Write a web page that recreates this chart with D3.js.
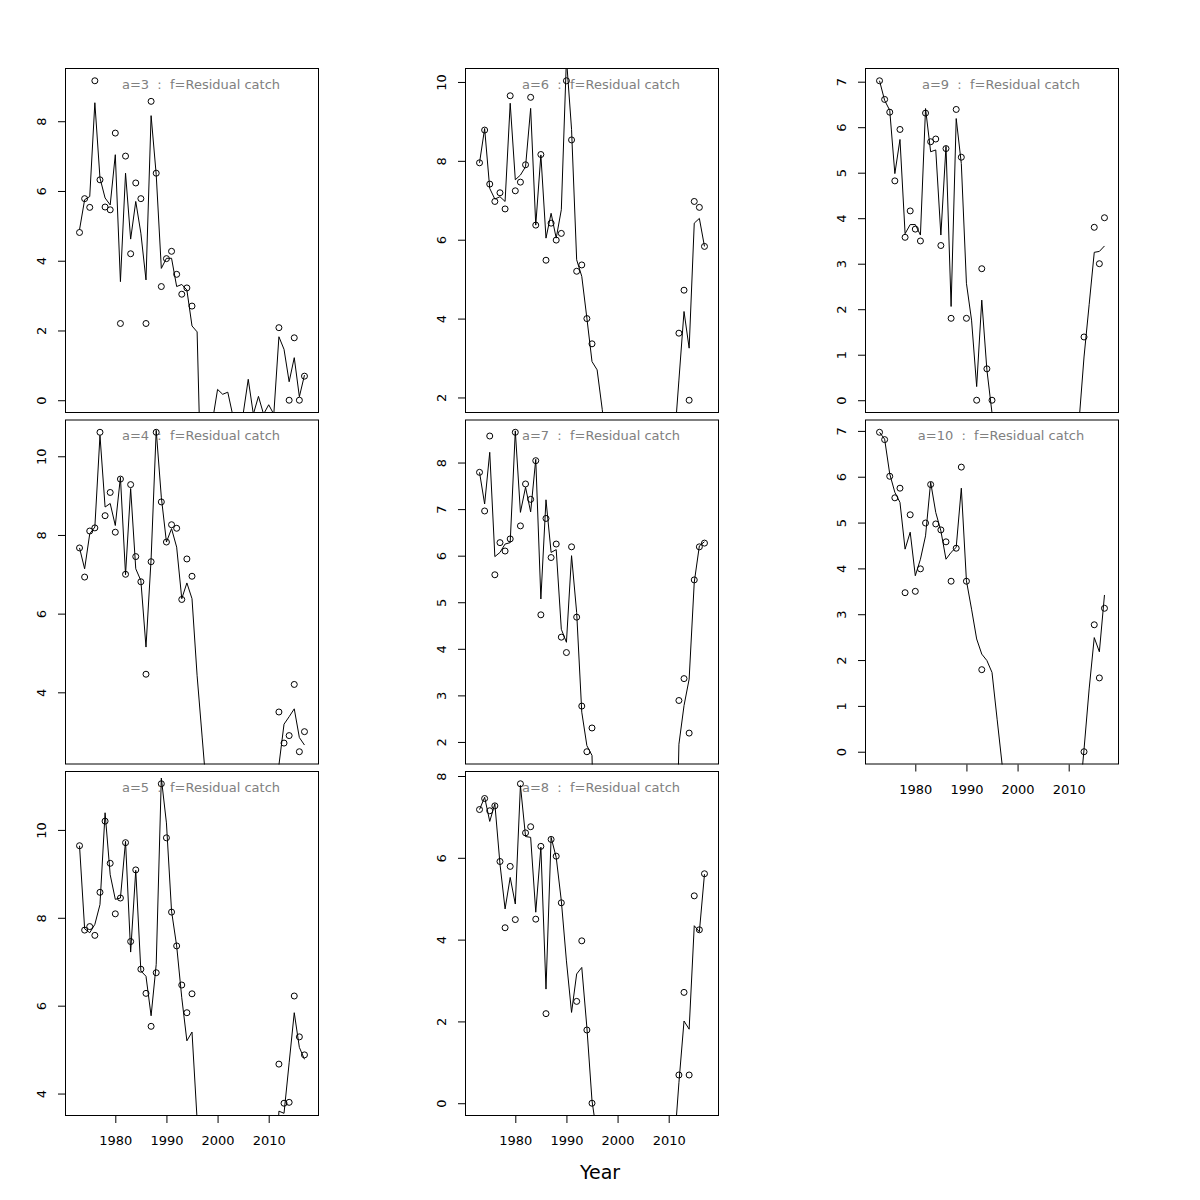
<!DOCTYPE html>
<html><head><meta charset="utf-8">
<script src="https://cdn.jsdelivr.net/npm/d3@7/dist/d3.min.js"></script>
<style>
body{margin:0;background:#fff}
svg text{font-family:"DejaVu Sans",sans-serif}
svg .tick text{font-size:13px}
</style>
</head><body>
<svg id="chart" width="1200" height="1200"></svg>
<script>
// ---------- data ----------
const years = [1973,1974,1975,1976,1977,1978,1979,1980,1981,1982,1983,1984,1985,1986,1987,1988,1989,1990,
  1991,1992,1993,1994,1995,1996,1997,1998,1999,2000,2001,2002,2003,2004,2005,2006,2007,2008,2009,2010,2011,
  2012,2013,2014,2015,2016,2017];
const xLimYears = [1972, 2018];
const xTicks = [1980, 1990, 2000, 2010];
const N = null;

const obs3 = [4.81,5.78,5.53,9.16,6.32,5.54,5.46,7.66,2.20,7.00,4.20,6.23,5.78,2.20,8.57,6.51,3.26,4.06,4.27,3.61,3.04,3.22,2.70,
  N,N,N,N,N,N,N,N,N,N,N,N,N,N,N,N, 2.08,N,0.00,1.79,0.00,0.69];
const pred3 = [4.89,5.75,5.84,8.53,6.37,5.80,5.60,7.04,3.40,6.51,4.62,5.70,4.79,3.45,8.16,6.47,3.78,4.07,4.07,3.26,3.32,3.16,2.13,
  1.96,-3.8,-3.0,-0.6,0.31,0.17,0.23,-0.45,-1.0,-0.4,0.60,-0.4,0.11,-0.4,-0.13,-0.4, 1.82,1.46,0.53,1.22,0.10,0.72];

const obs4 = [7.67,6.93,8.10,8.18,10.61,8.49,9.08,8.07,9.42,7.00,9.28,7.45,6.81,4.46,7.32,10.61,8.84,7.82,8.26,8.17,6.36,7.39,6.95,
  N,N,N,N,N,N,N,N,N,N,N,N,N,N,N,N, 3.50,2.71,2.90,4.20,2.49,3.00];
const pred4 = [7.67,7.14,8.03,8.20,10.53,8.71,8.80,8.24,9.47,6.99,9.18,7.14,6.84,5.15,7.39,10.66,8.96,7.82,8.16,7.69,6.38,6.78,6.38,
  4.42,2.84,1.26,-1.0,-2.0,-2.0,-2.0,-2.0,-2.0,-2.0,-2.0,-2.0,-2.0,-2.0,-2.0,-1.0, 2.15,3.19,3.38,3.58,2.85,2.66];

const obs5 = [9.64,7.72,7.80,7.60,8.58,10.20,9.24,8.09,8.45,9.71,7.46,9.09,6.83,6.28,5.53,6.75,11.05,9.82,8.13,7.36,6.47,5.84,6.27,
  N,N,N,N,N,N,N,N,N,N,N,N,N,N,N,N, 4.67,3.78,3.80,6.22,5.29,4.88];
const pred5 = [9.64,7.75,7.66,7.85,8.30,10.39,8.98,8.42,8.45,9.74,7.22,9.08,6.79,6.67,5.77,6.94,11.18,10.16,8.15,7.36,6.18,5.20,5.40,
  3.40,1.00,0.0,0.0,0.0,0.0,0.0,0.0,0.0,0.0,0.0,0.0,0.0,0.0,0.0,1.00, 3.60,3.55,4.70,5.84,5.05,4.78];

const obs6 = [7.95,8.78,7.41,6.97,7.19,6.78,9.65,7.24,7.46,7.90,9.61,6.37,8.16,5.48,6.42,5.99,6.16,10.03,8.53,5.20,5.36,4.00,3.36,
  N,N,N,N,N,N,N,N,N,N,N,N,N,N,N,N, 3.63,4.72,1.93,6.97,6.82,5.83];
const pred6 = [7.95,8.82,7.30,7.03,7.09,6.97,9.46,7.52,7.64,7.85,9.33,6.37,8.15,6.04,6.67,6.04,6.76,10.60,8.80,5.49,5.07,4.01,2.91,
  2.70,1.70,0.50,-1.0,-1.0,-1.0,-1.0,-1.0,-1.0,-1.0,-1.0,-1.0,-1.0,-1.0,-1.0,0.70, 2.44,4.18,3.25,6.42,6.54,5.83];

const obs7 = [7.79,6.96,8.57,5.59,6.28,6.10,6.36,8.65,6.64,7.54,7.21,8.04,4.73,6.80,5.96,6.25,4.25,3.92,6.19,4.68,2.77,1.79,2.30,
  N,N,N,N,N,N,N,N,N,N,N,N,N,N,N,N, 2.89,3.36,2.19,5.48,6.19,6.27];
const pred7 = [7.79,7.11,8.22,5.98,6.07,6.25,6.28,8.68,6.93,7.47,6.94,8.07,5.07,7.20,6.07,6.13,4.42,4.14,6.00,4.78,2.64,1.92,1.71,
  -3.0,-3.0,-3.0,-3.0,-3.0,-3.0,-3.0,-3.0,-3.0,-3.0,-3.0,-3.0,-3.0,-3.0,-3.0,-3.0, 1.95,2.78,3.35,5.43,6.21,6.30];

const obs8 = [7.18,7.45,7.15,7.27,5.91,4.29,5.79,4.49,7.81,6.61,6.76,4.50,6.28,2.19,6.45,6.04,4.90,N,N,2.49,3.97,1.79,0.00,
  N,N,N,N,N,N,N,N,N,N,N,N,N,N,N,N, 0.69,2.71,0.69,5.07,4.24,5.61];
const pred8 = [7.18,7.48,6.89,7.32,5.85,4.75,5.52,4.87,7.77,6.52,6.50,4.67,6.26,2.79,6.50,6.01,4.95,3.48,2.22,3.16,3.32,1.85,0.06,
  -0.80,-3.0,-3.0,-3.0,-3.0,-3.0,-3.0,-3.0,-3.0,-3.0,-3.0,-3.0,-3.0,-3.0,-3.0,-1.2, 0.50,2.01,1.81,4.34,4.19,5.60];

const obs9 = [7.02,6.61,6.33,4.82,5.95,3.58,4.16,3.76,3.50,6.31,5.68,5.74,3.40,5.53,1.80,6.39,5.34,1.80,N,0.00,2.89,0.69,0.00,
  N,N,N,N,N,N,N,N,N,N,N,N,N,N,N,N, N,1.39,N,3.80,3.00,4.01];
const pred9 = [7.02,6.59,6.37,4.98,5.73,3.66,3.86,3.86,3.63,6.41,5.46,5.50,3.63,5.58,2.06,6.19,5.20,2.57,1.76,0.30,2.20,0.67,-0.28,
  -2.0,-2.0,-2.0,-2.0,-2.0,-2.0,-2.0,-2.0,-2.0,-2.0,-2.0,-2.0,-2.0,-2.0,-2.0,-2.0, -0.50,0.95,2.10,3.25,3.27,3.39];

const obs10 = [6.97,6.81,6.01,5.54,5.75,3.47,5.17,3.50,3.99,4.99,5.83,4.97,4.84,4.58,3.72,4.44,6.21,3.72,N,N,1.79,N,N,
  N,N,N,N,N,N,N,N,N,N,N,N,N,N,N,N, N,0.00,N,2.77,1.61,3.13];
const pred10 = [6.97,6.82,6.06,5.66,5.44,4.42,4.79,3.84,4.20,4.71,5.88,5.22,4.82,4.20,4.35,4.46,5.75,3.73,3.11,2.46,2.13,1.99,1.73,
  0.71,-0.30,-2.0,-2.0,-2.0,-2.0,-2.0,-2.0,-2.0,-2.0,-2.0,-2.0,-2.0,-2.0,-2.0,-2.0, -1.20,0.05,1.37,2.49,2.18,3.42];

const ageLabels = ["a=3","a=4","a=5","a=6","a=7","a=8","a=9","a=10"];
const fleetLabel = "f=Residual catch";
const yTicks3 = [0,2,4,6,8], yTicks4 = [4,6,8,10], yTicks5 = [4,6,8,10], yTicks6 = [2,4,6,8,10];
const yTicks7 = [2,3,4,5,6,7,8], yTicks8 = [0,2,4,6,8], yTicks9 = [0,1,2,3,4,5,6,7], yTicks10 = [0,1,2,3,4,5,6,7];
const xTitle = "Year";

// ---------- layout ----------
const colLeft = [65, 465, 865], panelW = 254;
const rowTop = [68, 419.5, 771], panelH = 345;
const panels = [
  {lab: ageLabels[0], obs: obs3,  pred: pred3,  yt: yTicks3,  col:0, row:0, xaxis:false},
  {lab: ageLabels[1], obs: obs4,  pred: pred4,  yt: yTicks4,  col:0, row:1, xaxis:false},
  {lab: ageLabels[2], obs: obs5,  pred: pred5,  yt: yTicks5,  col:0, row:2, xaxis:true},
  {lab: ageLabels[3], obs: obs6,  pred: pred6,  yt: yTicks6,  col:1, row:0, xaxis:false},
  {lab: ageLabels[4], obs: obs7,  pred: pred7,  yt: yTicks7,  col:1, row:1, xaxis:false},
  {lab: ageLabels[5], obs: obs8,  pred: pred8,  yt: yTicks8,  col:1, row:2, xaxis:true},
  {lab: ageLabels[6], obs: obs9,  pred: pred9,  yt: yTicks9,  col:2, row:0, xaxis:false},
  {lab: ageLabels[7], obs: obs10, pred: pred10, yt: yTicks10, col:2, row:1, xaxis:true}
];

const svg = d3.select("#chart");
const defs = svg.append("defs");

panels.forEach((p, i) => {
  const L = colLeft[p.col], T = rowTop[p.row];
  const xr = xLimYears[1] - xLimYears[0];
  const x = d3.scaleLinear().domain([xLimYears[0] - 0.04*xr, xLimYears[1] + 0.04*xr]).range([L, L + panelW]);
  const ext = d3.extent(p.obs.filter(v => v !== null));
  const yr = ext[1] - ext[0];
  const y = d3.scaleLinear().domain([ext[0] - 0.04*yr, ext[1] + 0.04*yr]).range([T + panelH, T]);

  defs.append("clipPath").attr("id", "clip" + i)
    .append("rect").attr("x", L).attr("y", T).attr("width", panelW).attr("height", panelH);

  const g = svg.append("g");
  const pts = years.map((yv, k) => ({yr: yv, o: p.obs[k], e: p.pred[k]}));

  // predicted line
  g.append("path")
    .attr("clip-path", `url(#clip${i})`)
    .attr("d", d3.line().x(d => x(d.yr)).y(d => y(d.e))(pts))
    .attr("fill", "none").attr("stroke", "#000").attr("stroke-width", 1);

  // observed points
  g.selectAll("circle").data(pts.filter(d => d.o !== null)).join("circle")
    .attr("cx", d => x(d.yr)).attr("cy", d => y(d.o)).attr("r", 3)
    .attr("fill", "none").attr("stroke", "#000").attr("stroke-width", 1);

  // box
  g.append("rect").attr("x", L + 0.5).attr("y", T + 0.5).attr("width", panelW - 1).attr("height", panelH - 1)
    .attr("fill", "none").attr("stroke", "#000").attr("stroke-width", 1);

  // y axis
  const ya = g.append("g").attr("transform", `translate(${L},0)`)
    .call(d3.axisLeft(y).tickValues(p.yt).tickSize(7).tickFormat(d3.format("d")));
  ya.attr("font-size", null).attr("font-family", null);
  ya.select(".domain").remove();
  ya.selectAll(".tick line").attr("stroke", "#000");
  ya.selectAll(".tick text")
    .attr("x", null).attr("dy", null)
    .attr("text-anchor", "middle")
    .attr("transform", "translate(-18.7,0) rotate(-90)")
    .attr("font-size", "13px").style("font-size", "13px").attr("fill", "#000");

  // x axis
  if (p.xaxis) {
    const xa = g.append("g").attr("transform", `translate(0,${T + panelH})`)
      .call(d3.axisBottom(x).tickValues(xTicks).tickSize(7).tickPadding(13).tickFormat(d3.format("d")));
    xa.attr("font-size", null).attr("font-family", null);
    xa.select(".domain").remove();
    xa.selectAll(".tick line").attr("stroke", "#000");
    xa.selectAll(".tick text").attr("font-size", "13px").style("font-size", "13px").attr("fill", "#000");
  }

  // title
  g.append("text")
    .attr("x", L + panelW/2 + 9).attr("y", T + 20.5)
    .attr("text-anchor", "middle")
    .style("font-size", "13px").attr("fill", "#808080")
    .style("white-space", "pre")
    .text(p.lab + "  :  " + fleetLabel);
});

svg.append("text").attr("x", 600).attr("y", 1179).attr("text-anchor", "middle")
  .style("font-size", "19px").attr("fill", "#000").text(xTitle);
</script>
</body></html>
